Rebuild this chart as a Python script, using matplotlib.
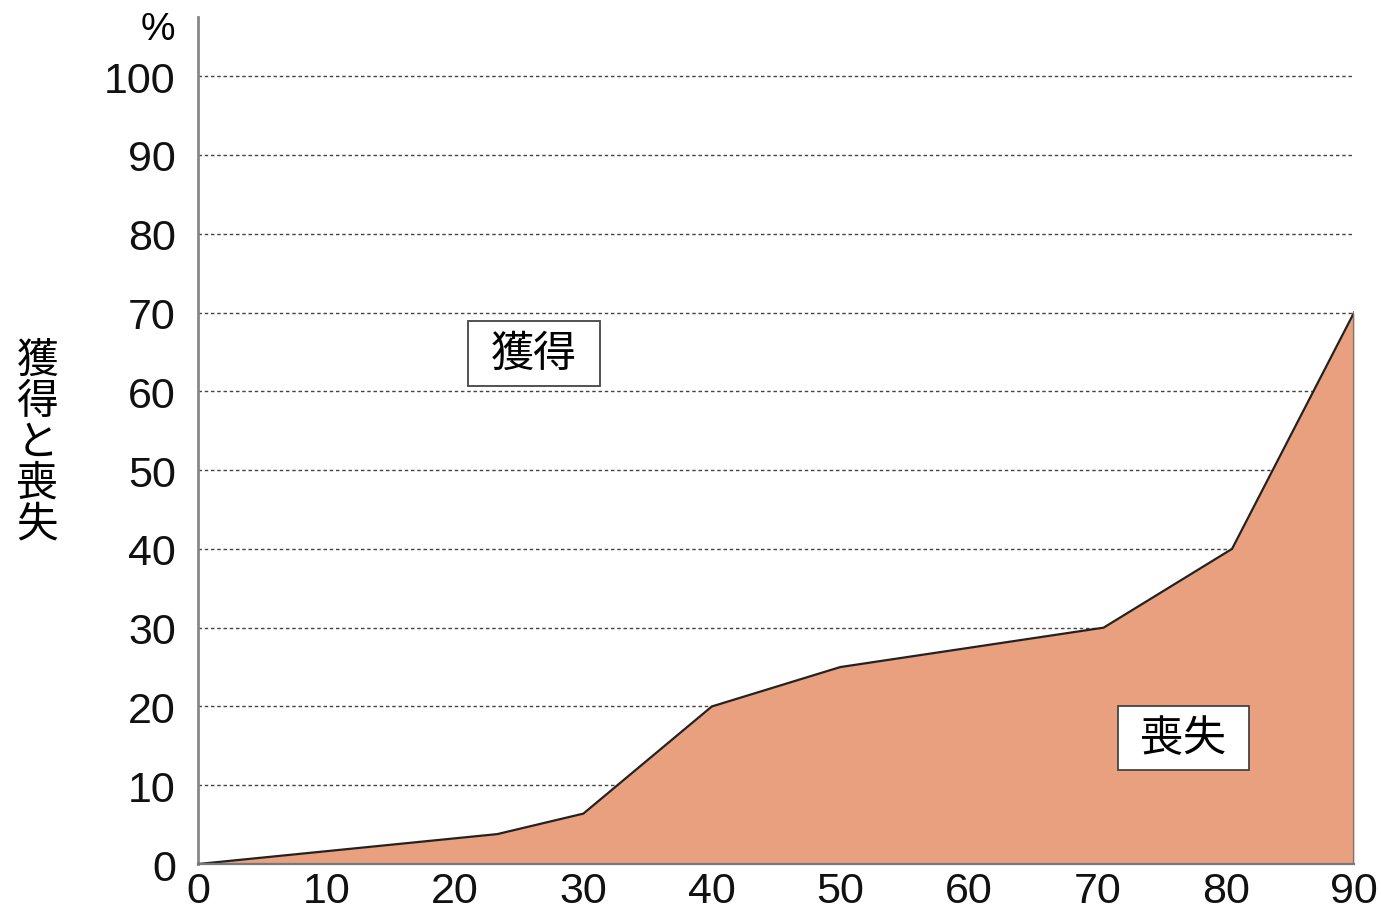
import numpy as np
import matplotlib
matplotlib.use("Agg")
import matplotlib.pyplot as plt
from matplotlib.patches import Rectangle

plt.rcParams['font.family'] = ['Noto Sans CJK JP', 'DejaVu Sans']

# age (x) and share lost (y)
ages = [0, 23.3, 30, 40, 50, 70.5, 80.5, 90]
loss = [0, 3.8, 6.4, 20, 25, 30, 40, 70]

x_ticks = [0, 10, 20, 30, 40, 50, 60, 70, 80, 90]
y_ticks = [0, 10, 20, 30, 40, 50, 60, 70, 80, 90, 100]

ylabel = "獲得と喪失"
gain_label = "獲得"
loss_label = "喪失"

fig = plt.figure(figsize=(13.81, 9.12), dpi=100)
ax = fig.add_axes([0.1434, 0.0515, 0.8371, 0.9287])

# dashed gridlines behind the area
for yv in y_ticks[1:]:
	ax.axhline(yv, color='#444444', linestyle=(0, (2.5, 2)), linewidth=1.0, zorder=1)

ax.fill_between(ages, loss, 0, color='#E8A07F', zorder=2, linewidth=0)
ax.plot(ages, loss, color='#222222', linewidth=1.6, zorder=3)
ax.plot([ages[-1], ages[-1]], [0, loss[-1]], color='#777777', linewidth=1.6, zorder=3)

ax.set_xlim(0, 90)
ax.set_ylim(0, 107.5)
ax.set_xticks(x_ticks)
ax.set_yticks(y_ticks)
ax.tick_params(length=0, labelsize=31, colors='#111111')
ax.tick_params(axis='x', pad=5)
ax.tick_params(axis='y', pad=16)
for lab in ax.get_xticklabels() + ax.get_yticklabels():
	lab.set_family(['Liberation Sans', 'DejaVu Sans'])

for s in ['top', 'right']:
	ax.spines[s].set_visible(False)
ax.spines['left'].set_color('#888888')
ax.spines['left'].set_linewidth(2)
ax.spines['bottom'].set_color('#777777')
ax.spines['bottom'].set_linewidth(1.6)
ax.spines['bottom'].set_zorder(4)

ax.text(-1.8, 106.0, "%", fontsize=28, ha='right', va='center', clip_on=False,
	family=['Liberation Sans', 'DejaVu Sans'])

# label boxes
ax.add_patch(Rectangle((21.0, 60.7), 10.3, 8.2, facecolor='white', edgecolor='#444444',
	linewidth=1.3, zorder=5))
ax.add_patch(Rectangle((71.6, 11.9), 10.2, 8.15, facecolor='white', edgecolor='#444444',
	linewidth=1.3, zorder=5))
ax.text(26.15, 64.8, gain_label, fontsize=31, ha='center', va='center', zorder=6)
ax.text(76.7, 16.0, loss_label, fontsize=31, ha='center', va='center', zorder=6)

fig.text(0.027, 0.514, "\n".join(ylabel), fontsize=30, ha='center', va='center',
	linespacing=1.0)

fig.savefig("out.png", dpi=100)
